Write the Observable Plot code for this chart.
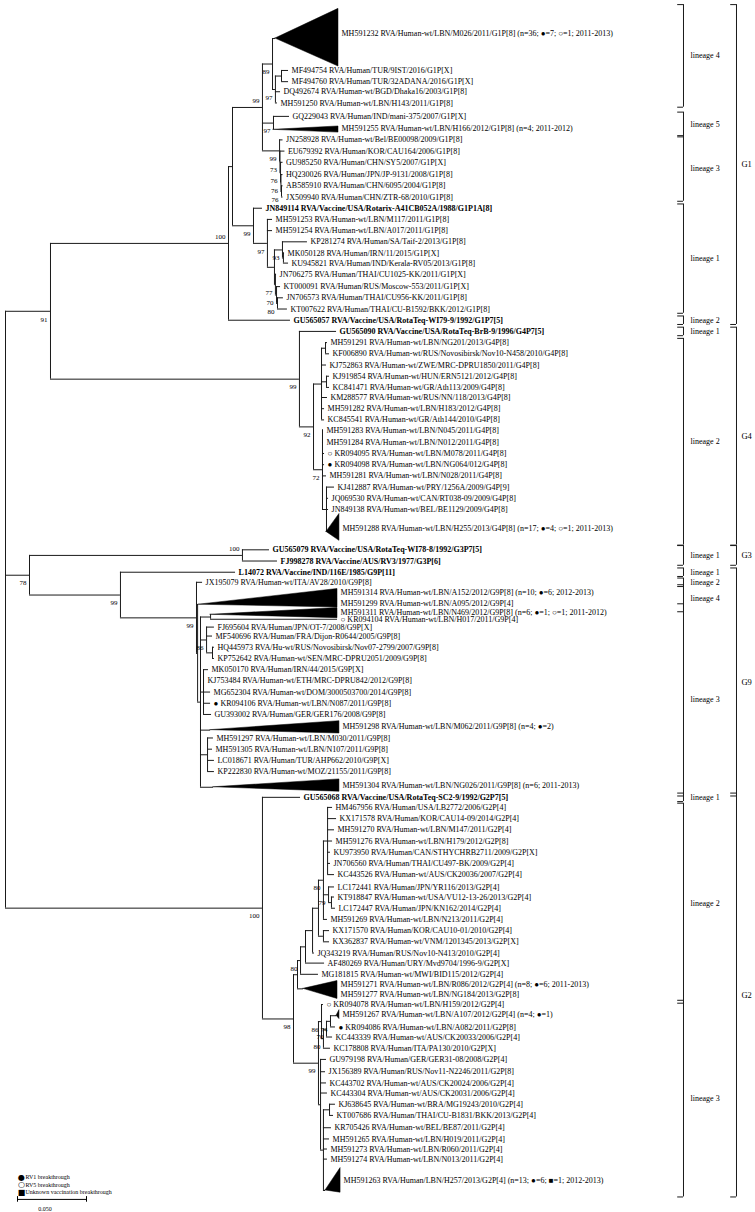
<!DOCTYPE html>
<html><head><meta charset="utf-8">
<script src="https://cdn.jsdelivr.net/npm/d3@7"></script>
<script src="https://cdn.jsdelivr.net/npm/@observablehq/plot@0.6"></script>
<style>html,body{margin:0;padding:0;background:#fff}svg{display:block}svg text{opacity:0.999}</style>
</head><body><div id="chart"></div>
<script>
// ---------- internal nodes ----------
const nodeIds = ["R","N91","G1r","G1a","G1b","L4","L4a","L4b","L5","L3","L3a","L3b","L3c","L3d","L1","L1a","L1b","N93","N93b","N77","N70","N80a1",
 "G4r","N92","G4A","G4A1","G4A2","G4B","G4B1",
 "N39","G3n","G9r","G9a","G9b","G9L3","N311","G9c","N86g9","G9d","G9e",
 "G2r","N98","N80a","C8","C7","C6","C5","C4","C3","C2","C2a","C1","N99","N86","N80e","M70","M74","L3g2","L3h","L3h2"];
const nodeParents = [null,"R","N91","G1r","G1a","G1b","L4","L4a","G1b","G1b","L3","L3a","L3b","L3c","G1a","L1","L1a","L1b","N93","L1b","N77","N70",
 "N91","G4r","N92","G4A","G4A","N92","G4B",
 "R","N39","N39","G9r","G9a","G9b","G9L3","G9L3","G9c","G9L3","G9L3",
 "R","G2r","N98","N80a","C8","C7","C6","C5","C5","C3","C2","C3","N98","N99","N86","N80e","M70","N99","L3g2","L3h"];
const nodeDists = [0,0.0326,0.1616,0.1645,0.1862,0.1935,0.1956,0.2000,0.1942,0.1986,0.1989,0.1993,0.1996,0.2000,0.1797,0.1898,0.1949,0.2007,0.2014,0.1956,0.1964,0.1971,
 0.2130,0.2232,0.2290,0.2319,0.2326,0.2297,0.2326,
 0.0174,0.1717,0.0833,0.1384,0.1392,0.1413,0.1486,0.1457,0.1500,0.1435,0.1464,
 0.1862,0.2087,0.2116,0.2138,0.2174,0.2225,0.2268,0.2304,0.2304,0.2341,0.2362,0.2334,0.2268,0.2290,0.2304,0.2326,0.2355,0.2283,0.2304,0.2348];
const nodeBoots = ["","91","100","","99","89","97","","97","99","73","76","76","76","99","97","","93","","77","70","80",
 "99","92","","","","72","",
 "78","100","99","99","","","","86","","","",
 "100","98","","80","","","","","80","79","","","99","86","80","70","74","","",""];
// nodes whose bootstrap value is printed above (rather than below) the incoming branch
const bootAbove = ["G1r","G1b","G3n"];

// ---------- leaves ----------
const leafLabels = [
 "MF494754 RVA/Human/TUR/9IST/2016/G1P[X]","MF494760 RVA/Human/TUR/32ADANA/2016/G1P[X]","DQ492674 RVA/Human-wt/BGD/Dhaka16/2003/G1P[8]","MH591250 RVA/Human-wt/LBN/H143/2011/G1P[8]",
 "GQ229043 RVA/Human/IND/mani-375/2007/G1P[X]",
 "JN258928 RVA/Human-wt/Bel/BE00098/2009/G1P[8]","EU679392 RVA/Human/KOR/CAU164/2006/G1P[8]","GU985250 RVA/Human/CHN/SY5/2007/G1P[X]","HQ230026 RVA/Human/JPN/JP-9131/2008/G1P[8]","AB585910 RVA/Human/CHN/6095/2004/G1P[8]","JX509940 RVA/Human/CHN/ZTR-68/2010/G1P[8]",
 "JN849114 RVA/Vaccine/USA/Rotarix-A41CB052A/1988/G1P1A[8]","MH591253 RVA/Human-wt/LBN/M117/2011/G1P[8]","MH591254 RVA/Human-wt/LBN/A017/2011/G1P[8]","KP281274 RVA/Human/SA/Taif-2/2013/G1P[8]","MK050128 RVA/Human/IRN/11/2015/G1P[X]","KU945821 RVA/Human/IND/Kerala-RV05/2013/G1P[8]","JN706275 RVA/Human/THAI/CU1025-KK/2011/G1P[X]","KT000091 RVA/Human/RUS/Moscow-553/2011/G1P[X]","JN706573 RVA/Human/THAI/CU956-KK/2011/G1P[8]","KT007622 RVA/Human/THAI/CU-B1592/BKK/2012/G1P[8]",
 "GU565057 RVA/Vaccine/USA/RotaTeq-WI79-9/1992/G1P7[5]",
 "GU565090 RVA/Vaccine/USA/RotaTeq-BrB-9/1996/G4P7[5]","MH591291 RVA/Human-wt/LBN/NG201/2013/G4P[8]","KF006890 RVA/Human-wt/RUS/Novosibirsk/Nov10-N458/2010/G4P[8]","KJ752863 RVA/Human-wt/ZWE/MRC-DPRU1850/2011/G4P[8]","KJ919854 RVA/Human-wt/HUN/ERN5121/2012/G4P[8]","KC841471 RVA/Human-wt/GR/Ath113/2009/G4P[8]","KM288577 RVA/Human-wt/RUS/NN/118/2013/G4P[8]","MH591282 RVA/Human-wt/LBN/H183/2012/G4P[8]","KC845541 RVA/Human-wt/GR/Ath144/2010/G4P[8]",
 "MH591283 RVA/Human-wt/LBN/N045/2011/G4P[8]","MH591284 RVA/Human-wt/LBN/N012/2011/G4P[8]","KR094095 RVA/Human-wt/LBN/M078/2011/G4P[8]","KR094098 RVA/Human-wt/LBN/NG064/012/G4P[8]","MH591281 RVA/Human-wt/LBN/N028/2011/G4P[8]","KJ412887 RVA/Human-wt/PRY/1256A/2009/G4P[9]","JQ069530 RVA/Human-wt/CAN/RT038-09/2009/G4P[8]","JN849138 RVA/Human-wt/BEL/BE1129/2009/G4P[8]",
 "GU565079 RVA/Vaccine/USA/RotaTeq-WI78-8/1992/G3P7[5]","FJ998278 RVA/Vaccine/AUS/RV3/1977/G3P[6]",
 "L14072 RVA/Vaccine/IND/116E/1985/G9P[11]","JX195079 RVA/Human-wt/ITA/AV28/2010/G9P[8]","KR094104 RVA/Human-wt/LBN/H017/2011/G9P[4]",
 "FJ695604 RVA/Human/JPN/OT-7/2008/G9P[X]","MF540696 RVA/Human/FRA/Dijon-R0644/2005/G9P[8]","HQ445973 RVA/Hu-wt/RUS/Novosibirsk/Nov07-2799/2007/G9P[8]","KP752642 RVA/Human-wt/SEN/MRC-DPRU2051/2009/G9P[8]",
 "MK050170 RVA/Human/IRN/44/2015/G9P[X]","KJ753484 RVA/Human-wt/ETH/MRC-DPRU842/2012/G9P[8]","MG652304 RVA/Human-wt/DOM/3000503700/2014/G9P[8]","KR094106 RVA/Human-wt/LBN/N087/2011/G9P[8]","GU393002 RVA/Human/GER/GER176/2008/G9P[8]",
 "MH591297 RVA/Human-wt/LBN/M030/2011/G9P[8]","MH591305 RVA/Human-wt/LBN/N107/2011/G9P[8]","LC018671 RVA/Human/TUR/AHP662/2010/G9P[X]","KP222830 RVA/Human-wt/MOZ/21155/2011/G9P[8]",
 "GU565068 RVA/Vaccine/USA/RotaTeq-SC2-9/1992/G2P7[5]",
 "HM467956 RVA/Human/USA/LB2772/2006/G2P[4]","KX171578 RVA/Human/KOR/CAU14-09/2014/G2P[4]","MH591270 RVA/Human-wt/LBN/M147/2011/G2P[4]","MH591276 RVA/Human-wt/LBN/H179/2012/G2P[8]","KU973950 RVA/Human/CAN/STHYCHRB2711/2009/G2P[X]","JN706560 RVA/Human/THAI/CU497-BK/2009/G2P[4]","KC443526 RVA/Human-wt/AUS/CK20036/2007/G2P[4]",
 "LC172441 RVA/Human/JPN/YR116/2013/G2P[4]","KT918847 RVA/Human-wt/USA/VU12-13-26/2013/G2P[4]","LC172447 RVA/Human/JPN/KN162/2014/G2P[4]","MH591269 RVA/Human-wt/LBN/N213/2011/G2P[4]","KX171570 RVA/Human/KOR/CAU10-01/2010/G2P[4]","KX362837 RVA/Human-wt/VNM/1201345/2013/G2P[X]",
 "JQ343219 RVA/Human/RUS/Nov10-N413/2010/G2P[4]","AF480269 RVA/Human/URY/Mvd9704/1996-9/G2P[X]","MG181815 RVA/Human-wt/MWI/BID115/2012/G2P[4]",
 "KR094078 RVA/Human-wt/LBN/H159/2012/G2P[4]","KR094086 RVA/Human-wt/LBN/A082/2011/G2P[8]","KC443339 RVA/Human-wt/AUS/CK20033/2006/G2P[4]","KC178808 RVA/Human/ITA/PA130/2010/G2P[X]",
 "GU979198 RVA/Human/GER/GER31-08/2008/G2P[4]","JX156389 RVA/Human/RUS/Nov11-N2246/2011/G2P[8]","KC443702 RVA/Human-wt/AUS/CK20024/2006/G2P[4]","KC443304 RVA/Human-wt/AUS/CK20031/2006/G2P[4]",
 "KJ638645 RVA/Human-wt/BRA/MG19243/2010/G2P[4]","KT007686 RVA/Human/THAI/CU-B1831/BKK/2013/G2P[4]","KR705426 RVA/Human-wt/BEL/BE87/2011/G2P[4]","MH591265 RVA/Human-wt/LBN/H019/2011/G2P[4]","MH591273 RVA/Human-wt/LBN/R060/2011/G2P[4]","MH591274 RVA/Human-wt/LBN/N013/2011/G2P[4]"];
const leafMarks = ["","","","","", "","","","","","", "","","","","","","","","","", "", "","","","","","","","","", "","","○","●","","","","", "","", "","","○", "","","","", "","","","●","", "","","","", "", "","","","","","","", "","","","","","", "","","", "○","●","","", "","","","", "","","","","",""];
const leafParents = ["L4b","L4b","L4a","L4a","L5","L3","L3a","L3b","L3c","L3d","L3d","L1","L1a","L1a","N93","N93b","N93b","N77","N70","N80a1","N80a1","G1r",
 "G4r","G4A1","G4A1","G4A","G4A2","G4A2","G4A","G4A","G4A","G4B","G4B","G4B","G4B","G4B","G4B1","G4B1","G4B1",
 "G3n","G3n","G9r","G9a","N311","G9c","G9c","N86g9","N86g9","G9d","G9d","G9d","G9d","G9d","G9e","G9e","G9e","G9e",
 "G2r","C1","C1","C1","C1","C1","C1","C1","C2","C2a","C2a","C3","C4","C4","C6","C7","C8","N86","M74","M70","N80e",
 "L3g2","L3g2","L3g2","L3g2","L3h2","L3h2","L3h","L3h","L3h","L3h"];
const leafDists = [0.2051,0.2051,0.1993,0.1971,0.2058,0.2011,0.2025,0.2011,0.2011,0.2011,0.2011,0.1862,0.1935,0.1935,0.2188,0.2022,0.2051,0.1964,0.1993,0.2014,0.2043,0.2065,
 0.2399,0.2333,0.2348,0.2326,0.2348,0.2348,0.2333,0.2312,0.2312,0.2304,0.2304,0.2312,0.2312,0.2326,0.2384,0.2341,0.2341,
 0.1913,0.1971,0.1667,0.1428,0.2406,0.1514,0.1500,0.1514,0.1514,0.1471,0.1442,0.1486,0.1486,0.1493,0.1507,0.1500,0.1514,0.1514,
 0.2138,0.2370,0.2399,0.2384,0.2370,0.2355,0.2355,0.2384,0.2384,0.2384,0.2391,0.2333,0.2348,0.2348,0.2239,0.2312,0.2268,0.2304,0.2391,0.2370,0.2355,
 0.2326,0.2319,0.2326,0.2333,0.2391,0.2377,0.2362,0.2348,0.2333,0.2333];
const leafRows = [3.3,4.3,5.2,6.2,7.4,9.5,10.5,11.5,12.6,13.6,14.6,15.6,16.6,17.6,18.6,19.6,20.5,21.5,22.6,23.6,24.6,25.6,
 26.6,27.6,28.6,29.6,30.6,31.6,32.5,33.5,34.5,35.4,36.5,37.5,38.5,39.5,40.5,41.5,42.5,
 46.1,47.1,48.1,49.0,52.3,53.0,53.8,54.8,55.8,56.8,57.8,58.8,59.8,60.8,62.9,63.9,64.9,65.9,
 68.2,69.1,70.1,71.1,72.1,73.1,74.1,75.1,76.2,77.1,78.1,79.1,80.1,81.1,82.1,83.0,84.0,86.7,88.7,89.6,90.6,
 91.6,92.7,93.7,94.6,95.6,96.6,97.7,98.7,99.6,100.5];
const vaccineStrains = ["JN849114","GU565057","GU565090","GU565079","FJ998278","L14072","GU565068"];

// ---------- collapsed clades (triangles) ----------
const cladeIds = ["MH591232","MH591255","MH591288","MH591314","MH591311","MH591298","MH591304","MH591271","MH591267","MH591263"];
const cladeParents = ["L4","L5","G4B1","G9b","N311","G9L3","G9L3","N80a","M74","L3h"];
const cladeApex = [0.1956,0.1942,0.2326,0.1399,0.1486,0.1486,0.1507,0.2159,0.2399,0.2319];
const cladeBase = [0.2413,0.2413,0.2420,0.2406,0.2406,0.2420,0.2420,0.2406,0.2420,0.2428];
const cladeApexRow = [0.45,8.6,44.5,51.0,51.9,62.2,67.3,85.3,87.7,103.3];
const cladeTop = [-2.2,8.3,42.9,49.6,51.3,61.4,66.6,84.6,87.2,101.3];
const cladeBottom = [2.95,8.85,45.3,51.25,52.2,62.5,67.7,86.2,88.0,103.5];
const cladeLabelTexts = [
 "MH591232 RVA/Human-wt/LBN/M026/2011/G1P[8] (n=36; ●=7; ○=1; 2011-2013)",
 "MH591255 RVA/Human-wt/LBN/H166/2012/G1P[8] (n=4; 2011-2012)",
 "MH591288 RVA/Human-wt/LBN/H255/2013/G4P[8] (n=17; ●=4; ○=1; 2011-2013)",
 "MH591314 RVA/Human-wt/LBN/A152/2012/G9P[8] (n=10; ●=6; 2012-2013)",
 "MH591299 RVA/Human-wt/LBN/A095/2012/G9P[4]",
 "MH591311 RVA/Human-wt/LBN/N469/2012/G9P[8] (n=6; ●=1; ○=1; 2011-2012)",
 "MH591298 RVA/Human-wt/LBN/M062/2011/G9P[8] (n=4; ●=2)",
 "MH591304 RVA/Human-wt/LBN/NG026/2011/G9P[8] (n=6; 2011-2013)",
 "MH591271 RVA/Human-wt/LBN/R086/2012/G2P[4] (n=8; ●=6; 2011-2013)",
 "MH591277 RVA/Human-wt/LBN/NG184/2013/G2P[8]",
 "MH591267 RVA/Human-wt/LBN/A107/2012/G2P[4] (n=4; ●=1)",
 "MH591263 RVA/Human/LBN/H257/2013/G2P[4] (n=13; ●=6; ■=1; 2012-2013)"];
const cladeLabelOf = ["MH591232","MH591255","MH591288","MH591314","MH591314","MH591311","MH591298","MH591304","MH591271","MH591271","MH591267","MH591263"];
const cladeLabelRows = [0,8.5,44.2,49.9,50.9,51.7,61.9,67.1,84.9,85.8,87.6,102.4];

// ---------- lineage / genotype brackets ----------
const lineageNames = ["lineage 4","lineage 5","lineage 3","lineage 1","lineage 2","lineage 1","lineage 2","lineage 1","lineage 1","lineage 2","lineage 4","lineage 3","lineage 1","lineage 2","lineage 3"];
const lineageFirst = ["MH591232","GQ229043","JN258928","JN849114","GU565057","GU565090","MH591291","GU565079","L14072","JX195079","MH591314","MH591311","GU565068","HM467956","KR094078"];
const lineageLast  = ["MH591250","MH591255","JX509940","KT007622","GU565057","GU565090","MH591288","FJ998278","L14072","JX195079","MH591314","MH591304","GU565068","MH591271","MH591263"];
const genotypeNames = ["G1","G4","G3","G9","G2"];
const genotypeFirst = ["MH591232","GU565090","GU565079","L14072","GU565068"];
const genotypeLast  = ["GU565057","MH591288","FJ998278","MH591304","MH591263"];

// ---------- legend & scale ----------
const legendSymbols = ["●","○","■"];
const legendTexts = ["RV1 breakthrough","RV5 breakthrough","Unknown vaccination breakthrough"];
const scaleBarValue = 0.05;
const scaleBarLabel = "0.050";

// ================= layout =================
const items = new Map();
nodeIds.forEach((id,i)=>items.set(id,{id,parent:nodeParents[i],x:nodeDists[i],boot:nodeBoots[i],children:[]}));
leafLabels.forEach((lab,i)=>{
  const id = lab.split(" ")[0];
  items.set(id,{id,parent:leafParents[i],x:leafDists[i],y:leafRows[i],leaf:true,
    label:(leafMarks[i]?leafMarks[i]+" ":"")+lab,bold:vaccineStrains.includes(id),top:leafRows[i],bottom:leafRows[i]});
});
cladeIds.forEach((id,i)=>items.set(id,{id,parent:cladeParents[i],x:cladeApex[i],y:cladeApexRow[i],leaf:true,tri:true,
  base:cladeBase[i],top:Math.min(cladeTop[i],cladeApexRow[i]),bottom:Math.max(cladeBottom[i],cladeApexRow[i]),ttop:cladeTop[i],tbot:cladeBottom[i]}));
for (const it of items.values()) if (it.parent) items.get(it.parent).children.push(it);
function lay(n){
  if (n.leaf) return n.y;
  const ys = n.children.map(lay);
  n.ymin = Math.min(...ys); n.ymax = Math.max(...ys);
  n.y = (n.ymin+n.ymax)/2; return n.y;
}
lay(items.get("R"));
const all = [...items.values()];
const horiz = all.filter(d=>d.parent).map(d=>({x1:items.get(d.parent).x,x2:d.x,y:d.y}));
const internals = all.filter(d=>!d.leaf);
const booted = internals.filter(d=>d.boot);
const tips = all.filter(d=>d.leaf && !d.tri);
const tri = all.filter(d=>d.tri).flatMap(d=>[{id:d.id,x:d.x,y1:d.y,y2:d.y},{id:d.id,x:d.base,y1:d.ttop,y2:d.tbot}]);
const cladeLabels = cladeLabelTexts.map((t,i)=>({text:t,x:items.get(cladeLabelOf[i]).base,y:cladeLabelRows[i]}));

const pad = 0.38;
function span(a,b){return {y1:items.get(a).top-pad, y2:items.get(b).bottom+pad};}
const lineages = lineageNames.map((n,i)=>({name:n,...span(lineageFirst[i],lineageLast[i])}));
const genotypes = genotypeNames.map((n,i)=>({name:n,...span(genotypeFirst[i],genotypeLast[i])}));

// fixed annotation columns (in distance units on the x scale)
const LX = 0.4913, LT = 0.0042, LLX = 0.4964, GX = 0.5297, GLX = 0.5333;
const font = "Liberation Serif, Times New Roman, serif";
const ink = "#000";
const stroke = "#1a1a1a";

const bracketMarks = (data,X,labelX,fs)=>[
  Plot.ruleX(data,{x:()=>X,y1:"y1",y2:"y2",stroke,strokeWidth:1}),
  Plot.ruleY(data,{y:"y1",x1:()=>X-LT,x2:()=>X,stroke,strokeWidth:1}),
  Plot.ruleY(data,{y:"y2",x1:()=>X-LT,x2:()=>X,stroke,strokeWidth:1}),
  Plot.text(data,{x:()=>labelX,y:d=>(d.y1+d.y2)/2,text:"name",textAnchor:"start",fontSize:fs,fontFamily:font,fill:ink})
];

const sx0 = 0.0087;
const chart = Plot.plot({
  width:755, height:1212, margin:0,
  x:{domain:[0,0.5],range:[5,695],axis:null},
  y:{domain:[0,100],range:[33,1153],axis:null},
  style:{background:"#fff",color:"#000"},
  marks:[
    Plot.ruleY(horiz,{x1:"x1",x2:"x2",y:"y",stroke,strokeWidth:1}),
    Plot.ruleX(internals,{x:"x",y1:"ymin",y2:"ymax",stroke,strokeWidth:1}),
    Plot.areaY(tri,{x:"x",y1:"y1",y2:"y2",z:"id",fill:"#000",stroke:"#000",strokeWidth:0.5}),
    Plot.text(tips.filter(d=>!d.bold),{x:"x",y:"y",text:"label",dx:3,textAnchor:"start",fontSize:8,fontFamily:font,fill:ink}),
    Plot.text(tips.filter(d=>d.bold),{x:"x",y:"y",text:"label",dx:3,textAnchor:"start",fontSize:8,fontWeight:"bold",fontFamily:font,fill:ink}),
    Plot.text(cladeLabels,{x:"x",y:"y",text:"text",dx:3,textAnchor:"start",fontSize:8,fontFamily:font,fill:ink}),
    Plot.text(booted.filter(d=>!bootAbove.includes(d.id)),{x:"x",y:"y",text:"boot",dx:-3,dy:8,textAnchor:"end",fontSize:7,fontFamily:font,fill:ink}),
    Plot.text(booted.filter(d=>bootAbove.includes(d.id)),{x:"x",y:"y",text:"boot",dx:-3,dy:-7,textAnchor:"end",fontSize:7,fontFamily:font,fill:ink}),
    ...bracketMarks(lineages,LX,LLX,8),
    ...bracketMarks(genotypes,GX,GLX,8.5),
    // legend
    Plot.text(legendSymbols,{x:()=>0.0116,y:(d,i)=>102.1+i*0.68,text:d=>d,fontSize:8,fontFamily:"DejaVu Sans",fill:ink}),
    Plot.text(legendTexts,{x:()=>0.0145,y:(d,i)=>102.1+i*0.68,text:d=>d,textAnchor:"start",fontSize:6,fontFamily:font,fill:ink}),
    // scale bar
    Plot.ruleY([104.1],{x1:()=>sx0,x2:()=>sx0+scaleBarValue,stroke:ink,strokeWidth:1}),
    Plot.ruleX([sx0,sx0+scaleBarValue],{x:d=>d,y1:()=>103.85,y2:()=>104.35,stroke:ink,strokeWidth:1}),
    Plot.text([scaleBarLabel],{x:()=>sx0+scaleBarValue*0.4,y:()=>105.0,text:d=>d,fontSize:6,fontFamily:font,fill:ink})
  ]
});
document.getElementById("chart").appendChild(chart);
</script></body></html>
